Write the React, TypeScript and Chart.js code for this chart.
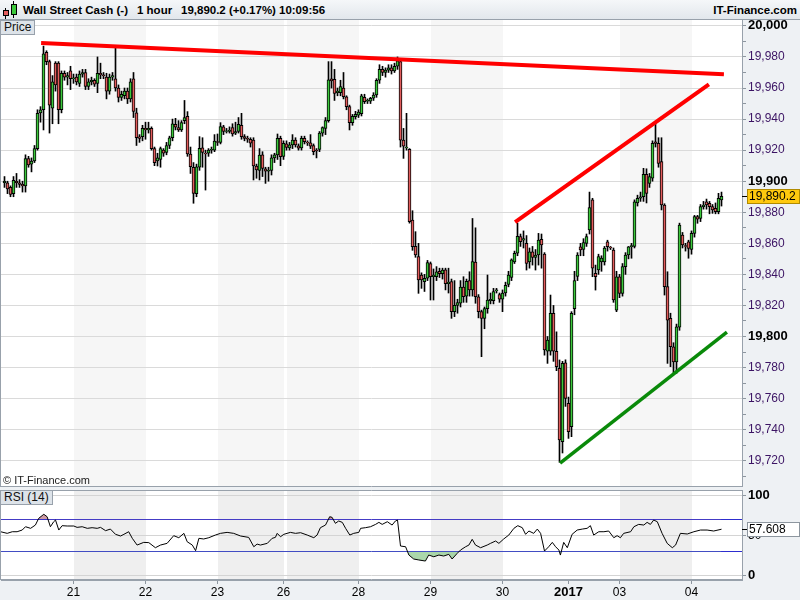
import React, { useEffect, useRef } from 'react';
import { Chart, registerables } from 'chart.js';

Chart.register(...registerables);

// Hourly candles, slot 0 is the first bar on the left.
const opens = [
  19899, 19899, 19896, 19892, 19900, 19899, 19898, 19897, 19914.5, 19911,
  19913, 19921, 19944, 19946, 19983, 19977, 19947, 19976, 19976, 19946,
  19969.5, 19967, 19971, 19966, 19967, 19963, 19969, 19970, 19961, 19964,
  19965, 19963, 19969.5, 19968.5, 19967, 19958, 19967, 19966, 19960, 19954,
  19955, 19958, 19953, 19966, 19944, 19928.5, 19928.7, 19934, 19933, 19934,
  19921, 19913, 19914, 19920, 19918.5, 19923, 19928, 19936.6, 19934.5, 19933,
  19939, 19941.8, 19917.5, 19909, 19892, 19909, 19921.5, 19918, 19918, 19920,
  19920, 19925.5, 19925, 19935, 19932, 19932, 19934.5, 19931, 19932, 19936,
  19928.7, 19927.6, 19927, 19926.5, 19909.8, 19907, 19917, 19908, 19906.5, 19907,
  19915, 19917, 19927.6, 19916, 19924, 19921.5, 19923.3, 19926.5, 19922.7, 19921.5,
  19927.6, 19925, 19924.7, 19923, 19920, 19920.5, 19931, 19934, 19939, 19966,
  19965.6, 19957, 19957, 19960, 19954.4, 19948, 19937.7, 19941.5, 19942.5, 19943.5,
  19954, 19951.5, 19951.5, 19953.4, 19955.5, 19965, 19972, 19970, 19971.5, 19973,
  19971, 19974, 19977, 19926.5, 19921.5, 19920.5, 19875, 19858, 19851.4, 19839.6,
  19835.3, 19837.5, 19847, 19838.5, 19838.5, 19842, 19840.5, 19843, 19834, 19835.3,
  19816, 19820, 19821.4, 19831.8, 19826, 19836, 19830, 19848, 19825.6, 19816,
  19811.7, 19818, 19823, 19823, 19829.5, 19827, 19824, 19828, 19833.5, 19838,
  19848, 19853.6, 19864.3, 19862, 19860, 19848, 19854.6, 19851, 19852.5, 19862.5,
  19853, 19790.5, 19790.5, 19814.9, 19790.5, 19779.5, 19732.3, 19783, 19757, 19741.9,
  19818, 19838.7, 19857.8, 19856, 19860, 19868.6, 19888, 19840.7, 19842.8, 19848,
  19848, 19861, 19857.5, 19855.7, 19817, 19838.5, 19827.8, 19845, 19852.5, 19857.8,
  19858, 19886, 19889, 19890, 19904.5, 19898.6, 19902, 19925.4, 19924.4, 19912.6,
  19884.7, 19832.1, 19811.7, 19793.4, 19783.7, 19806, 19865.3, 19858.5, 19861, 19856,
  19866.4, 19877.2, 19876, 19883.6, 19886.8, 19885.8, 19883.6, 19882.5, 19880.4, 19888,
];

const highs = [
  19903, 19900, 19897, 19903, 19905, 19901, 19900, 19917, 19916, 19915,
  19923, 19946, 19948, 19987, 19984, 19978, 19968, 19977, 19977, 19971,
  19971, 19970, 19974, 19969, 19969, 19971, 19972, 19972, 19966, 19967,
  19966, 19980, 19976, 19970, 19969.5, 19969, 19970, 19986.5, 19962, 19958,
  19960, 19960, 19966, 19970, 19947, 19930, 19936, 19938, 19938, 19935,
  19922, 19918, 19922, 19921, 19925, 19929, 19940, 19940.5, 19939, 19939,
  19952, 19944.8, 19922, 19912, 19911, 19928.7, 19928, 19920, 19921, 19922,
  19930, 19930.4, 19937.7, 19936, 19934, 19935, 19937, 19938, 19941, 19943.7,
  19930, 19929, 19928, 19928, 19911, 19921, 19919, 19909, 19909, 19917,
  19918, 19930.4, 19929, 19926, 19926, 19925, 19930, 19928, 19924, 19929,
  19929, 19926, 19930, 19924, 19921, 19932, 19935, 19941, 19977, 19977,
  19972, 19960, 19965, 19970, 19955, 19949, 19943, 19945, 19946, 19956,
  19956, 19953, 19954, 19957, 19966, 19975, 19974, 19973, 19975, 19975,
  19976, 19980, 19978, 19934, 19943.7, 19921, 19881, 19867.5, 19860, 19841,
  19840, 19849, 19848, 19843.5, 19845, 19844, 19844, 19844, 19844, 19837,
  19836, 19824, 19836, 19838.5, 19837, 19841.7, 19876, 19870, 19827, 19817,
  19819, 19839.6, 19828, 19831, 19831, 19828, 19830, 19835, 19842, 19850,
  19855, 19873, 19866, 19868, 19865, 19857, 19858, 19856, 19866.4, 19866,
  19854, 19800, 19826.7, 19820, 19803, 19784.9, 19784, 19785, 19761, 19816,
  19842, 19854, 19860, 19863, 19866, 19893, 19889, 19846, 19853, 19852,
  19858, 19862, 19858, 19857, 19842, 19840, 19847, 19854, 19858, 19860,
  19888, 19891, 19893, 19908.3, 19908, 19905, 19926, 19937.3, 19928, 19928,
  19885.5, 19841.7, 19815, 19796, 19808, 19873, 19867, 19860, 19862, 19868,
  19878, 19878, 19885, 19887, 19888.5, 19887, 19885, 19886, 19892.2, 19893,
];

const lows = [
  19896, 19892, 19890, 19890, 19896, 19896, 19893, 19893, 19909, 19906,
  19912, 19920, 19938, 19933, 19975, 19931, 19937, 19958, 19937, 19944,
  19965, 19962, 19959, 19963, 19962, 19961, 19967, 19959, 19959, 19962,
  19961, 19957, 19966, 19966, 19953, 19956, 19965, 19958, 19951, 19952,
  19953, 19950, 19951, 19941, 19923, 19925, 19926, 19927, 19931, 19920,
  19910, 19909.8, 19909, 19916, 19917, 19921, 19926, 19933, 19932, 19932,
  19937, 19916, 19905, 19885.8, 19890, 19907, 19909, 19894.3, 19916, 19918,
  19919, 19923, 19924, 19930, 19931, 19931, 19929, 19930, 19931, 19927,
  19926, 19925, 19922, 19900.8, 19901.9, 19900.8, 19903, 19898.6, 19900, 19904,
  19912, 19914, 19910, 19914, 19920, 19920, 19921, 19922, 19920, 19920,
  19924, 19923, 19921, 19917, 19915, 19919, 19929, 19930, 19938, 19960,
  19952, 19955, 19955, 19953, 19946, 19933, 19936, 19940, 19941, 19942,
  19950, 19950, 19950, 19952, 19954, 19963, 19968, 19967, 19970, 19969,
  19970, 19972, 19922, 19914.7, 19920, 19873, 19855.5, 19851, 19827.8, 19831,
  19829, 19836, 19823.5, 19823.5, 19836, 19838, 19837, 19830, 19828, 19811.7,
  19812.8, 19815, 19819, 19822, 19822, 19826, 19826, 19821.4, 19812, 19787,
  19805, 19815, 19821, 19821, 19828, 19822, 19816, 19826, 19832, 19836,
  19847, 19852, 19858, 19857, 19842.8, 19844, 19846, 19842.8, 19846, 19844,
  19788, 19782.7, 19788, 19784, 19778, 19719, 19725, 19755, 19734.4, 19735.5,
  19814, 19836, 19852, 19852, 19858, 19866, 19838.5, 19829.9, 19840, 19842,
  19846, 19855, 19856, 19822, 19816, 19825, 19826, 19840, 19850, 19850.4,
  19857, 19884, 19887, 19887, 19886, 19896, 19900, 19922, 19909, 19881.5,
  19826.7, 19782.7, 19780.6, 19776.3, 19776.3, 19804, 19857, 19855, 19850.4, 19853,
  19864, 19872.9, 19874, 19882, 19882, 19879, 19879.3, 19879, 19879, 19884,
];

const closes = [
  19900, 19895, 19891.5, 19900.5, 19899, 19898, 19897, 19914.5, 19910.5, 19913,
  19921, 19943.7, 19946, 19982, 19977, 19949, 19964, 19962, 19946, 19969.5,
  19967, 19968, 19966, 19966.5, 19964, 19969, 19970, 19961, 19964, 19965,
  19962.5, 19969.5, 19968.5, 19968, 19958, 19967, 19968, 19960, 19954, 19956,
  19958, 19953, 19964, 19945, 19928, 19927.6, 19934, 19933, 19934, 19921,
  19912, 19915, 19921, 19918, 19923, 19928, 19937, 19934.8, 19933, 19937.7,
  19941, 19917.5, 19909.3, 19892.2, 19909.3, 19921.2, 19918.5, 19917.5, 19920, 19920.5,
  19925.9, 19925, 19935.1, 19932, 19932.5, 19933, 19930.4, 19932, 19936.6, 19928.7,
  19927.6, 19927, 19924.5, 19909.8, 19907.2, 19916.9, 19908.3, 19906.5, 19907, 19915,
  19917, 19927.6, 19915.8, 19924.4, 19921.7, 19923.5, 19926.5, 19923.3, 19921.2, 19927.6,
  19925.4, 19924.7, 19922.5, 19919, 19919.5, 19931, 19934.5, 19939, 19965.2, 19964.5,
  19956.6, 19958, 19960.9, 19954.4, 19948, 19937.7, 19941.7, 19943, 19944.5, 19955,
  19951.2, 19952, 19953.4, 19955.5, 19965, 19972, 19970, 19971.5, 19973, 19971,
  19974, 19977.5, 19926.5, 19922.5, 19922, 19874, 19857.8, 19852.5, 19836.4, 19836.4,
  19837.5, 19847.6, 19838.5, 19839.6, 19841.7, 19840.5, 19842.8, 19834, 19835, 19816,
  19820, 19821.8, 19831.8, 19825.6, 19835.5, 19830, 19848.2, 19825.6, 19816, 19811.7,
  19818, 19823.5, 19824, 19829, 19830, 19824, 19828, 19833, 19839.5, 19849.3,
  19853.6, 19864.5, 19861, 19863, 19847.1, 19854.6, 19851, 19852.5, 19862.1, 19859,
  19791.3, 19797.7, 19814.9, 19790.5, 19780.6, 19733.4, 19782.7, 19760.2, 19738.7, 19814.9,
  19836, 19852.5, 19855.7, 19860.5, 19864.3, 19883, 19844, 19838.5, 19851.4, 19850.5,
  19857, 19857.8, 19857, 19823.5, 19838.5, 19827.8, 19845, 19852.5, 19857.8, 19858.5,
  19886.8, 19889, 19890, 19904.5, 19892.2, 19902.9, 19924.4, 19924.4, 19911.5, 19884.7,
  19832.1, 19810.6, 19793.4, 19783.7, 19806.3, 19871.8, 19859, 19858, 19856.8, 19866.4,
  19877.2, 19875.5, 19883.6, 19884.7, 19884.7, 19883.6, 19881.5, 19880.4, 19889, 19890.2,
];

const lastPrice = 19890.2;
const lastRsi = 57.608;

// First hourly slot of each session and the label shown under it.
const dayTickSlots = [23, 47, 71, 93, 118, 142, 166, 188, 205, 229];
const dayTickLabels = ['21', '22', '23', '26', '28', '29', '30', '2017', '03', '04'];
// Sessions drawn with a grey background.
const shadedDays = [[23, 47], [71, 93], [94, 118], [142, 166], [205, 229]];

const priceTicks = [
  19710, 19720, 19730, 19740, 19750, 19760, 19770, 19780, 19790, 19800,
  19810, 19820, 19830, 19840, 19850, 19860, 19870, 19880, 19890, 19900,
  19910, 19920, 19930, 19940, 19950, 19960, 19970, 19980, 19990, 20000,
];
const rsiTicks = [0, 30, 50, 70, 100];
const rsiTickLabels = ['0', '', '50', '', '100'];

// Trend lines: hour slot / price pairs.
const resistanceLine = [{ x: 12.2, y: 19989 }, { x: 239.8, y: 19968.8 }];
const risingLine = [{ x: 170.2, y: 19873.7 }, { x: 234.8, y: 19962.4 }];
const supportLine = [{ x: 185.2, y: 19718.5 }, { x: 240.8, y: 19802.9 }];

// RSI(14) samples: hour slot and value.
const rsiSlots = [
  -1.3, 0.9, 2.6, 4.2, 5.9, 7, 8.7, 10.3, 11.4, 13.1,
  14.2, 15.3, 16.4, 17, 18.1, 19.2, 20.9, 23.1, 24.2, 25.9,
  27.6, 29.2, 30.9, 32, 33.7, 35.3, 37, 38.7, 39.8, 41.4,
  42.6, 44.2, 46.4, 48.1, 50.3, 52, 54.2, 56.4, 58.1, 59.8,
  60.9, 62.6, 63.7, 64.8, 66.4, 68.1, 70.3, 72, 74.2, 76.4,
  78.7, 81.4, 83.1, 84.2, 85.3, 87.6, 89.2, 90.3, 90.9, 92,
  93.1, 95.3, 97, 98.7, 100.9, 103.1, 104.2, 105.3, 107, 108.4,
  109.2, 110.3, 111.4, 112.6, 113.7, 115.1, 116.4, 118.1, 118.7, 120.3,
  122, 123.7, 124.8, 125.9, 127.6, 129.2, 130.3, 131, 132, 133.7,
  134.8, 136.4, 138.1, 140.3, 141.4, 143.1, 144.8, 146.4, 148.1, 149.2,
  150.9, 152, 153.7, 154.8, 155.9, 157, 158.7, 160.9, 162, 163.7,
  164.8, 166.4, 168.1, 169.8, 171.1, 172.6, 173.7, 174.8, 176.4, 177.6,
  178.7, 180, 181.4, 182.6, 183.7, 184.8, 185.3, 186.4, 187.6, 189.2,
  190.9, 192.6, 194.2, 195.3, 196.4, 198.1, 199.8, 201.4, 203.1, 204.2,
  205.3, 206.4, 208.7, 209.8, 211.4, 213.1, 214.2, 215.3, 216.4, 217.6,
  219.2, 220.9, 222.6, 223.7, 225.3, 227.6, 229.8, 232, 234.2, 236.4,
  239,
];
const rsiValues = [
  54.5, 52.5, 54.5, 54.5, 56.6, 60.7, 58.7, 62.8, 71.1, 76.1,
  73.1, 60.7, 66.9, 69, 56.6, 62, 61.6, 61.6, 59.9, 60.7,
  58.7, 59.5, 58.7, 59.9, 55.8, 57.8, 51.3, 49.2, 51.3, 54.5,
  46.3, 38, 41.3, 41, 34.7, 38, 40.1, 49.6, 47.1, 52.5,
  42.1, 38, 31, 46.3, 45.5, 47.1, 50.4, 52.5, 53.7, 52.5,
  49.2, 47.5, 35.9, 39.2, 38, 40.1, 46.3, 47.5, 52.5, 48.3,
  51.3, 53.7, 52.5, 53.3, 50.4, 47.1, 50.4, 59.5, 62.8, 73.1,
  72.3, 64.9, 67.8, 66.1, 58.7, 50.4, 52.5, 53.7, 58.7, 59.5,
  60.7, 63.6, 66.1, 63.6, 66.9, 62.8, 67.8, 69, 36.8, 35.9,
  25.6, 20.7, 19.5, 18.2, 25.6, 23.5, 25.6, 24.4, 26.5, 20.7,
  27.7, 31.8, 35.9, 38, 45.1, 38, 34.7, 38, 40.1, 43,
  40.1, 45.5, 50.4, 58.7, 62, 59.5, 51.3, 55.4, 52.5, 57.8,
  52.5, 30.6, 35.9, 41.3, 35.9, 31.8, 25.6, 41.3, 34.7, 51.3,
  56.6, 57.8, 58.7, 62, 50.4, 54.5, 54.5, 55.4, 47.1, 49.6,
  47.1, 52.5, 54.5, 60.7, 63.6, 62.8, 66.1, 63.6, 69, 66.9,
  52.5, 40.1, 34.7, 38, 52.5, 51.7, 54.5, 56.6, 56.6, 55.4,
  57.608,
];

const X_MIN = -1.1667;
const X_MAX = 245.8333;
const PRICE_MIN = 19703.1;
const PRICE_MAX = 20003.8;
const RSI_MIN = -5.3;
const RSI_MAX = 106.2;
const AXIS_W = 58;

const SANS = '"Liberation Sans", Arial, sans-serif';
const UP = '#3cc83c';
const DOWN = '#e25c5c';
const FRAME = '#98a1ab';
const PANEL_BG = '#eef1f4';

function bandsPlugin(color: string) {
  return {
    id: 'dayBands',
    beforeDraw(chart: any) {
      const { ctx, chartArea: a, scales } = chart;
      ctx.save();
      ctx.fillStyle = '#ffffff';
      ctx.fillRect(a.left, a.top, a.right - a.left, a.bottom - a.top);
      ctx.fillStyle = color;
      shadedDays.forEach(([s, e]) => {
        const x0 = Math.round(scales.x.getPixelForValue(s));
        const x1 = Math.round(scales.x.getPixelForValue(e));
        ctx.fillRect(x0, a.top, x1 - x0, a.bottom - a.top);
      });
      ctx.restore();
    },
  };
}

function framePlugin(drawTop: boolean) {
  return {
    id: 'panelFrame',
    afterDraw(chart: any) {
      const { ctx, chartArea: a } = chart;
      ctx.save();
      ctx.strokeStyle = FRAME;
      ctx.lineWidth = 1;
      ctx.beginPath();
      ctx.moveTo(a.left - 0.5, a.top);
      ctx.lineTo(a.left - 0.5, a.bottom);
      ctx.moveTo(a.left, a.bottom - 0.5);
      ctx.lineTo(a.right, a.bottom - 0.5);
      if (drawTop) {
        ctx.moveTo(a.left, a.top + 0.5);
        ctx.lineTo(a.right, a.top + 0.5);
      }
      ctx.stroke();
      ctx.restore();
    },
  };
}

function valueTag(id: string, value: number, text: string, fill: string, stroke: string) {
  return {
    id,
    afterDraw(chart: any) {
      const { ctx, chartArea: a, scales } = chart;
      const y = Math.round(scales.y.getPixelForValue(value));
      ctx.save();
      ctx.fillStyle = '#000';
      ctx.fillRect(a.right, y, 5, 1);
      ctx.fillStyle = fill;
      ctx.fillRect(a.right + 5, y - 7, 53, 15);
      ctx.strokeStyle = stroke;
      ctx.lineWidth = 1;
      ctx.strokeRect(a.right + 5.5, y - 6.5, 52, 14);
      ctx.fillStyle = '#000';
      ctx.font = `12px ${SANS}`;
      ctx.textBaseline = 'middle';
      ctx.textAlign = 'left';
      ctx.fillText(text, a.right + 7, y + 1);
      ctx.restore();
    },
  };
}

const boxLabel: React.CSSProperties = {
  position: 'absolute',
  left: 0,
  background: '#dde3e9',
  border: `1px solid ${FRAME}`,
  boxSizing: 'border-box',
  font: `12px ${SANS}`,
  color: '#111',
  lineHeight: '13px',
  padding: '0 3px',
  zIndex: 2,
};

const headText: React.CSSProperties = {
  position: 'absolute',
  top: 3,
  font: `bold 11.5px ${SANS}`,
  lineHeight: '14px',
  color: '#000',
  whiteSpace: 'pre',
};

export default function App() {
  const mainRef = useRef<HTMLCanvasElement>(null);
  const rsiRef = useRef<HTMLCanvasElement>(null);

  useEffect(() => {
    document.body.style.margin = '0';
    const slots = closes.map((_, i) => i);
    const bodyData = slots.map((i) => ({ x: i, y: [opens[i], closes[i]] }));
    const wickData = slots.map((i) => ({ x: i, y: [lows[i], highs[i]] }));
    const bodyColors = slots.map((i) => (closes[i] >= opens[i] ? UP : DOWN));
    const rsiPoints = rsiSlots.map((s, i) => ({ x: s, y: rsiValues[i] }));

    const priceFmt = (v: number) => v.toLocaleString('en-US');

    const mainChart = new Chart(mainRef.current as HTMLCanvasElement, {
      type: 'bar',
      data: {
        datasets: [
          { type: 'line', data: resistanceLine, borderColor: '#ff0000', borderWidth: 4, pointRadius: 0, order: 0 },
          { type: 'line', data: risingLine, borderColor: '#ff0000', borderWidth: 4, pointRadius: 0, order: 0 },
          { type: 'line', data: supportLine, borderColor: '#0a8a0a', borderWidth: 3.5, pointRadius: 0, order: 0 },
          {
            type: 'bar', data: bodyData, backgroundColor: bodyColors, borderColor: '#000', borderWidth: 1,
            borderSkipped: false, barThickness: 3, grouped: false, order: 1,
          },
          {
            type: 'bar', data: wickData, backgroundColor: '#000', borderWidth: 0,
            barThickness: 1, grouped: false, order: 2,
          },
        ] as any,
      },
      options: {
        animation: false,
        responsive: false,
        maintainAspectRatio: false,
        events: [],
        layout: { padding: { left: 1, right: 0, top: 0, bottom: 0 } },
        plugins: { legend: { display: false }, tooltip: { enabled: false } },
        scales: {
          x: { type: 'linear', min: X_MIN, max: X_MAX, offset: false, display: false },
          y: {
            type: 'linear',
            position: 'right',
            min: PRICE_MIN,
            max: PRICE_MAX,
            afterBuildTicks: (s: any) => { s.ticks = priceTicks.map((v) => ({ value: v })); },
            afterFit: (s: any) => { s.width = AXIS_W; s.paddingTop = 0; s.paddingBottom = 0; },
            border: { display: true, color: FRAME },
            grid: {
              color: (c: any) => (c.tick && c.tick.value % 20 === 0 ? '#dadada' : 'rgba(0,0,0,0)'),
              tickColor: '#8d969f',
              tickLength: 4,
            },
            ticks: {
              autoSkip: false,
              padding: 2,
              callback: (v: any) => (Number(v) % 20 === 0 ? priceFmt(Number(v)) : ''),
              color: (c: any) => (c.tick && c.tick.value % 100 === 0 ? '#000' : '#3c1464'),
              font: (c: any) => {
                const major = c.tick && c.tick.value % 100 === 0;
                return { family: SANS, size: major ? 13 : 12, weight: major ? 'bold' : 'normal' };
              },
            },
          },
        },
      } as any,
      plugins: [
        bandsPlugin('#f6f6f6'),
        framePlugin(false),
        valueTag('lastPrice', lastPrice, lastPrice.toLocaleString('en-US', { minimumFractionDigits: 1 }), '#ffc90e', '#b08a00'),
      ],
    });

    const rsiChart = new Chart(rsiRef.current as HTMLCanvasElement, {
      type: 'line',
      data: {
        datasets: [
          {
            data: rsiPoints, borderColor: '#000', borderWidth: 1, pointRadius: 0, tension: 0,
            fill: { target: { value: 70 }, above: 'rgba(196,136,148,0.85)', below: 'rgba(0,0,0,0)' },
          },
          {
            data: rsiPoints, borderColor: 'rgba(0,0,0,0)', borderWidth: 0, pointRadius: 0, tension: 0,
            fill: { target: { value: 30 }, above: 'rgba(0,0,0,0)', below: 'rgba(150,206,150,0.8)' },
          },
        ] as any,
      },
      options: {
        animation: false,
        responsive: false,
        maintainAspectRatio: false,
        events: [],
        layout: { padding: { left: 1, right: 0, top: 0, bottom: 0 } },
        plugins: { legend: { display: false }, tooltip: { enabled: false } },
        scales: {
          x: {
            type: 'linear',
            min: X_MIN,
            max: X_MAX,
            offset: false,
            afterBuildTicks: (s: any) => { s.ticks = dayTickSlots.map((v) => ({ value: v })); },
            afterFit: (s: any) => { s.height = 20; s.paddingLeft = 0; s.paddingRight = 0; },
            border: { display: true, color: FRAME },
            grid: { drawOnChartArea: false, tickLength: 4, tickColor: '#8d969f' },
            ticks: {
              autoSkip: false,
              maxRotation: 0,
              padding: 1,
              color: '#000',
              callback: (v: any) => dayTickLabels[dayTickSlots.indexOf(Number(v))] ?? '',
              font: (c: any) => {
                const year = c.tick && c.tick.label === '2017';
                return { family: SANS, size: year ? 13 : 12, weight: year ? 'bold' : 'normal' };
              },
            },
          },
          y: {
            type: 'linear',
            position: 'right',
            min: RSI_MIN,
            max: RSI_MAX,
            afterBuildTicks: (s: any) => { s.ticks = rsiTicks.map((v) => ({ value: v })); },
            afterFit: (s: any) => { s.width = AXIS_W; s.paddingTop = 0; s.paddingBottom = 0; },
            border: { display: true, color: FRAME },
            grid: {
              color: (c: any) => (c.tick && (c.tick.value === 30 || c.tick.value === 70) ? '#2d2dcf' : '#d4d4d4'),
              tickColor: (c: any) => (c.tick && (c.tick.value === 30 || c.tick.value === 70) ? 'rgba(0,0,0,0)' : '#8d969f'),
              tickLength: 4,
            },
            ticks: {
              autoSkip: false,
              padding: 2,
              color: '#000',
              callback: (v: any) => rsiTickLabels[rsiTicks.indexOf(Number(v))] ?? '',
              font: (c: any) => {
                const edge = c.tick && (c.tick.value === 0 || c.tick.value === 100);
                return { family: SANS, size: edge ? 13 : 12, weight: edge ? 'bold' : 'normal' };
              },
            },
          },
        },
      } as any,
      plugins: [
        bandsPlugin('#efefef'),
        framePlugin(true),
        valueTag('lastRsi', lastRsi, lastRsi.toFixed(3), '#ffffff', '#8d969f'),
      ],
    });

    return () => {
      mainChart.destroy();
      rsiChart.destroy();
    };
  }, []);

  return (
    <div style={{ position: 'relative', width: 800, height: 600, background: PANEL_BG, overflow: 'hidden' }}>
      <div
        style={{
          position: 'absolute', left: 0, top: 0, width: 800, height: 20, boxSizing: 'border-box',
          background: 'linear-gradient(#f5f7f9, #e2e7ec)', borderBottom: `1px solid ${FRAME}`,
        }}
      >
        <div style={{ position: 'absolute', left: 5, top: 8, width: 1, height: 11, background: '#000' }} />
        <div style={{ position: 'absolute', left: 3, top: 10, width: 6, height: 6, boxSizing: 'border-box', background: DOWN, border: '1px solid #000' }} />
        <div style={{ position: 'absolute', left: 13, top: 1, width: 1, height: 17, background: '#000' }} />
        <div style={{ position: 'absolute', left: 11, top: 4, width: 6, height: 11, boxSizing: 'border-box', background: UP, border: '1px solid #000' }} />
        <span style={{ ...headText, left: 23 }}>Wall Street Cash (-)</span>
        <span style={{ ...headText, left: 137 }}>1 hour</span>
        <span style={{ ...headText, left: 181 }}>19,890.2 (+0.17%)</span>
        <span style={{ ...headText, left: 279 }}>10:09:56</span>
        <span style={{ ...headText, right: 3 }}>IT-Finance.com</span>
      </div>
      <canvas
        ref={mainRef}
        width={800}
        height={467}
        style={{ position: 'absolute', left: 0, top: 20, width: 800, height: 467 }}
      />
      <canvas
        ref={rsiRef}
        width={800}
        height={110}
        style={{ position: 'absolute', left: 0, top: 490, width: 800, height: 110 }}
      />
      <div style={{ ...boxLabel, top: 20, height: 15 }}>Price</div>
      <div style={{ ...boxLabel, top: 490, height: 15 }}>RSI (14)</div>
      <div style={{ position: 'absolute', left: 3, top: 474, font: `11px ${SANS}`, color: '#222', zIndex: 2 }}>
        © IT-Finance.com
      </div>
    </div>
  );
}
